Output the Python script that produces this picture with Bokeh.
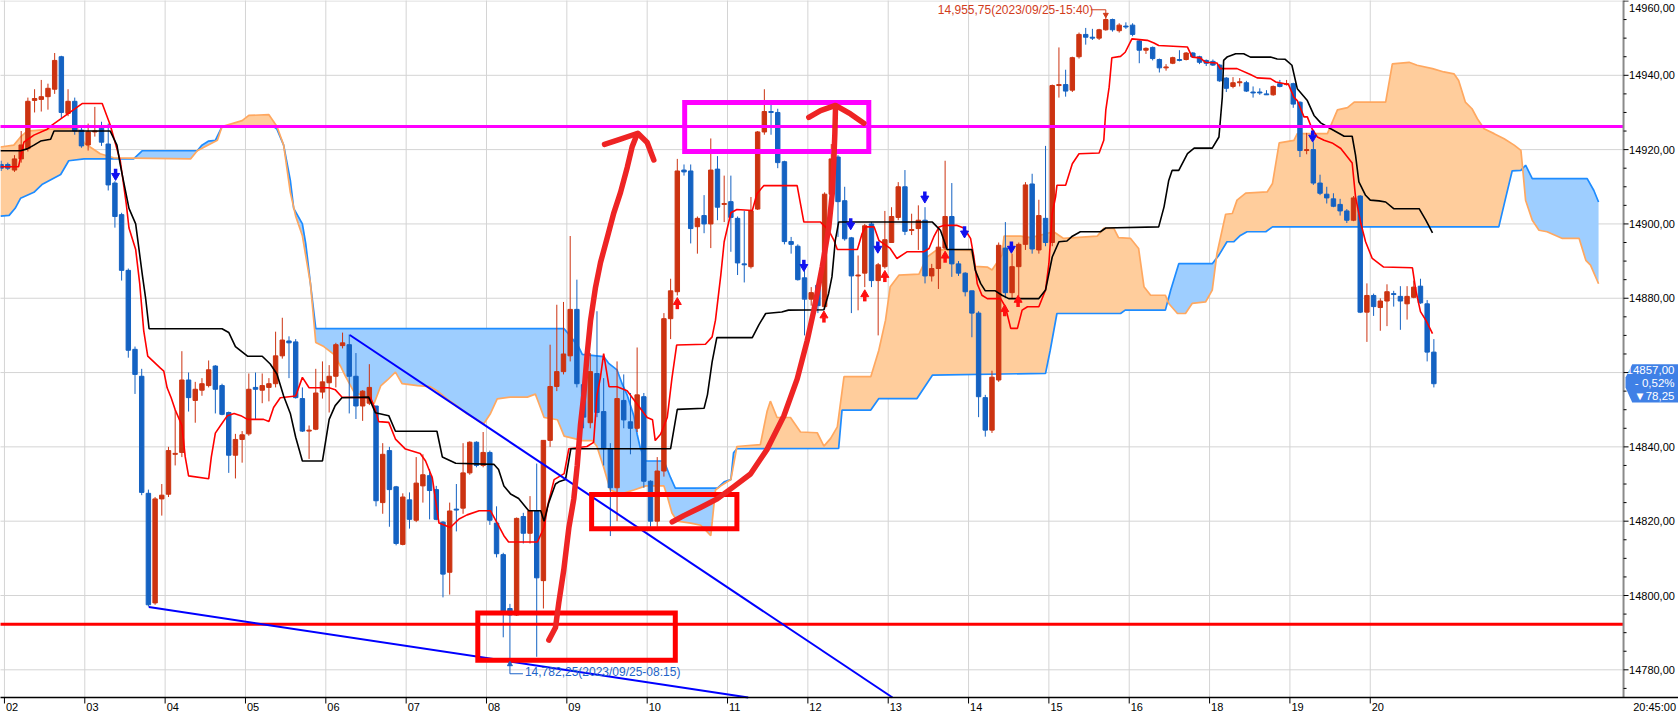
from bokeh.plotting import figure
from bokeh.models import ColumnDataSource, Range1d
from bokeh.core.properties import value
from bokeh.embed import file_html
from bokeh.resources import INLINE

FONT = "Liberation Sans"

# ---------------- data: 5-minute candles of 2023/09/25 ----------------
first_index = -1  # 01:55 candle, at the very left edge

opens = [
    14916.0,
    14916.0, 14914.5, 14917.5, 14920.25, 14933.25, 14933.5, 14934.25, 14936.25, 14945.0, 14929.75, 14933.0, 14925.25,
    14921.25, 14924.75, 14925.75, 14921.5, 14911.0, 14902.5, 14887.5, 14866.25, 14859.0, 14827.5, 14798.0, 14826.0,
    14827.25, 14838.0, 14838.5, 14858.0, 14852.5, 14855.25, 14856.5, 14861.75, 14856.5, 14849.25, 14837.75, 14842.0,
    14843.5, 14856.0, 14855.25, 14856.0, 14857.0, 14864.5, 14868.5, 14868.25, 14853.0, 14844.25, 14844.75, 14854.75,
    14857.25, 14859.0, 14867.25, 14867.5, 14859.0, 14851.0, 14851.75, 14851.0, 14825.0, 14839.0, 14829.25, 14813.75,
    14825.75, 14820.25, 14829.5, 14832.25, 14828.5, 14819.75, 14806.25, 14823.25, 14823.5, 14833.0, 14841.25, 14835.0,
    14838.5, 14819.5, 14811.0, 14796.5, 14794.75, 14821.25, 14816.75, 14822.75, 14804.0, 14841.75, 14856.25, 14860.25,
    14864.5, 14877.0, 14856.75, 14846.5, 14859.75, 14849.5, 14839.5, 14829.0, 14852.5, 14846.75, 14845.0, 14853.5,
    14830.75, 14820.0, 14833.5, 14874.5, 14881.75, 14914.5, 14914.25, 14899.25, 14902.25, 14900.0, 14914.75, 14905.25,
    14906.0, 14901.5, 14889.25, 14888.5, 14904.0, 14924.75, 14930.25, 14930.0, 14916.75, 14895.25, 14894.0, 14885.5,
    14879.75, 14883.5, 14877.75, 14908.0, 14918.0, 14906.25, 14896.25, 14886.0, 14886.75, 14900.0, 14884.75, 14888.5,
    14895.0, 14901.75, 14910.0, 14898.25, 14898.75, 14901.0, 14886.0, 14888.0, 14893.5, 14902.0, 14889.25, 14886.75,
    14882.0, 14876.0, 14853.25, 14844.5, 14858.0, 14893.5, 14881.5, 14888.5, 14894.5, 14910.75, 14893.0, 14901.5,
    14895.0, 14937.25, 14937.5, 14936.0, 14945.0, 14951.0, 14950.25, 14950.0, 14952.25, 14955.0, 14952.0, 14953.25,
    14953.5, 14949.25, 14946.75, 14947.5, 14944.25, 14942.0, 14943.25, 14944.25, 14944.25, 14946.0, 14945.0, 14944.0,
    14943.75, 14942.75, 14939.25, 14937.0, 14938.0, 14938.0, 14935.5, 14935.5, 14935.0, 14934.75, 14937.75, 14937.5,
    14937.75, 14932.75, 14919.75, 14920.0, 14911.0, 14908.0, 14906.75, 14905.25, 14903.5, 14901.0, 14907.5, 14876.25,
    14880.75, 14877.5, 14879.25, 14881.25, 14880.5, 14878.5, 14880.25, 14883.25, 14878.5, 14865.5,
]
highs = [
    14917.0,
    14916.5, 14918.5, 14925.0, 14934.0, 14936.25, 14938.75, 14937.75, 14946.0, 14945.25, 14936.25, 14934.0, 14926.0,
    14927.0, 14931.5, 14927.5, 14927.0, 14911.5, 14903.0, 14888.0, 14867.0, 14861.0, 14828.5, 14826.5, 14830.0,
    14840.0, 14850.0, 14865.75, 14860.0, 14857.5, 14858.5, 14863.25, 14862.0, 14857.0, 14849.5, 14843.5, 14844.25,
    14859.75, 14860.0, 14859.75, 14858.5, 14871.0, 14874.75, 14869.75, 14869.0, 14856.0, 14845.75, 14861.0, 14863.0,
    14862.0, 14868.0, 14870.75, 14870.25, 14865.25, 14855.25, 14862.25, 14851.0, 14841.0, 14840.0, 14829.5, 14827.5,
    14827.75, 14837.25, 14838.0, 14834.0, 14829.5, 14820.0, 14825.0, 14830.0, 14841.0, 14841.5, 14841.5, 14844.0,
    14839.0, 14824.0, 14811.5, 14797.75, 14821.0, 14822.25, 14826.75, 14835.5, 14841.75, 14867.5, 14878.25, 14879.0,
    14896.75, 14885.0, 14858.0, 14865.25, 14876.5, 14858.5, 14841.0, 14863.0, 14859.5, 14854.5, 14866.75, 14854.5,
    14831.0, 14837.25, 14876.0, 14885.25, 14917.5, 14916.0, 14916.0, 14902.0, 14907.75, 14923.0, 14918.25, 14913.0,
    14913.0, 14902.0, 14903.5, 14907.25, 14925.0, 14936.25, 14932.25, 14931.0, 14917.0, 14896.5, 14894.5, 14889.75,
    14883.0, 14885.0, 14908.5, 14921.5, 14918.5, 14910.0, 14896.5, 14891.5, 14900.0, 14900.5, 14889.5, 14903.5,
    14904.5, 14911.25, 14914.5, 14902.75, 14905.0, 14904.5, 14889.25, 14899.25, 14917.0, 14911.0, 14890.0, 14887.0,
    14882.0, 14876.5, 14854.0, 14860.5, 14895.0, 14900.5, 14892.0, 14895.0, 14911.25, 14913.5, 14906.5, 14921.0,
    14937.5, 14947.5, 14941.5, 14945.0, 14951.5, 14952.75, 14952.5, 14952.5, 14955.75, 14955.25, 14954.0, 14954.25,
    14954.0, 14949.5, 14947.5, 14947.75, 14944.5, 14943.0, 14945.0, 14946.75, 14946.25, 14946.25, 14945.25, 14944.25,
    14944.25, 14943.0, 14939.5, 14939.5, 14939.25, 14938.5, 14937.0, 14936.5, 14936.0, 14937.25, 14938.75, 14938.75,
    14938.0, 14933.0, 14924.5, 14922.0, 14913.25, 14910.0, 14908.25, 14906.75, 14904.0, 14907.5, 14907.75, 14884.0,
    14881.25, 14880.0, 14883.75, 14882.0, 14883.25, 14883.25, 14884.75, 14885.25, 14879.5, 14869.0,
]
lows = [
    14914.25,
    14914.5, 14914.0, 14916.5, 14919.5, 14930.0, 14930.25, 14930.75, 14935.0, 14928.25, 14929.0, 14924.0, 14920.5,
    14919.75, 14923.5, 14921.0, 14909.0, 14899.0, 14884.75, 14864.0, 14854.25, 14827.0, 14797.0, 14797.5, 14821.5,
    14826.5, 14835.0, 14837.25, 14849.5, 14846.5, 14853.75, 14856.0, 14849.0, 14848.5, 14833.0, 14831.5, 14835.75,
    14843.0, 14847.5, 14851.75, 14852.25, 14856.0, 14863.75, 14858.5, 14853.0, 14844.0, 14836.75, 14844.5, 14853.0,
    14849.25, 14856.0, 14866.5, 14849.0, 14847.5, 14847.0, 14851.25, 14824.0, 14822.0, 14818.5, 14813.5, 14813.5,
    14818.0, 14819.75, 14825.0, 14820.5, 14820.25, 14799.5, 14800.25, 14817.25, 14822.0, 14832.5, 14834.5, 14834.5,
    14819.0, 14810.25, 14788.75, 14782.25, 14794.5, 14814.0, 14814.0, 14783.5, 14796.5, 14840.0, 14855.0, 14859.5,
    14863.0, 14856.0, 14845.0, 14845.0, 14848.0, 14835.0, 14816.0, 14820.0, 14845.0, 14838.0, 14844.0, 14829.0,
    14818.5, 14818.5, 14832.0, 14869.0, 14880.75, 14913.0, 14894.75, 14892.0, 14897.5, 14893.5, 14901.0, 14900.5,
    14892.5, 14886.25, 14884.25, 14888.0, 14903.75, 14924.0, 14924.0, 14915.0, 14894.5, 14892.0, 14884.75, 14870.0,
    14878.0, 14876.0, 14877.0, 14907.0, 14896.5, 14895.5, 14876.0, 14876.75, 14883.0, 14883.0, 14870.0, 14888.0,
    14895.0, 14901.0, 14897.0, 14897.0, 14893.0, 14884.0, 14884.5, 14882.5, 14893.0, 14885.75, 14886.0, 14880.5,
    14869.5, 14848.0, 14842.75, 14843.75, 14857.5, 14880.0, 14880.0, 14880.5, 14893.0, 14892.0, 14892.0, 14894.0,
    14894.0, 14934.0, 14934.25, 14935.5, 14944.5, 14948.25, 14949.5, 14949.5, 14952.0, 14951.75, 14951.5, 14952.5,
    14950.5, 14943.25, 14945.75, 14944.0, 14940.75, 14941.25, 14943.0, 14943.75, 14944.0, 14944.75, 14943.0, 14942.5,
    14942.5, 14938.25, 14935.5, 14936.5, 14937.0, 14935.5, 14934.0, 14934.75, 14934.75, 14934.5, 14936.75, 14937.25,
    14931.25, 14918.0, 14918.75, 14910.5, 14907.75, 14905.5, 14904.5, 14902.25, 14900.25, 14900.75, 14876.0, 14868.25,
    14875.25, 14871.25, 14872.5, 14877.75, 14871.5, 14874.25, 14880.0, 14878.5, 14863.0, 14856.0,
]
closes = [
    14915.0,
    14915.0, 14917.5, 14921.25, 14933.0, 14933.75, 14934.25, 14936.5, 14944.0, 14930.0, 14933.0, 14925.0, 14921.0,
    14924.75, 14925.0, 14922.0, 14910.5, 14902.0, 14887.5, 14866.0, 14859.5, 14827.75, 14797.5, 14826.0, 14827.0,
    14839.0, 14838.25, 14858.0, 14853.25, 14855.5, 14857.0, 14860.75, 14855.5, 14848.75, 14837.75, 14842.0, 14843.25,
    14855.5, 14855.5, 14856.5, 14857.0, 14864.5, 14868.75, 14868.0, 14853.25, 14844.25, 14844.5, 14854.5, 14857.5,
    14859.0, 14867.5, 14868.0, 14859.0, 14851.0, 14855.0, 14856.0, 14825.5, 14838.0, 14828.5, 14814.0, 14826.5,
    14820.5, 14830.25, 14832.5, 14828.25, 14820.5, 14805.75, 14822.75, 14823.0, 14833.0, 14841.25, 14835.0, 14838.5,
    14820.25, 14811.25, 14795.0, 14794.75, 14820.75, 14816.75, 14822.75, 14804.75, 14841.75, 14856.25, 14860.25, 14865.0,
    14877.0, 14857.0, 14848.0, 14860.25, 14849.25, 14839.5, 14829.0, 14853.0, 14847.25, 14845.0, 14854.0, 14830.75,
    14820.0, 14833.5, 14874.5, 14882.0, 14914.25, 14914.0, 14898.75, 14901.5, 14900.0, 14914.5, 14904.5, 14905.5,
    14901.75, 14889.5, 14889.0, 14903.5, 14924.75, 14930.25, 14930.0, 14916.5, 14895.25, 14894.5, 14885.0, 14879.75,
    14881.5, 14878.0, 14908.0, 14917.5, 14906.0, 14896.0, 14886.0, 14886.25, 14899.5, 14884.75, 14889.0, 14895.75,
    14902.0, 14910.0, 14898.0, 14898.5, 14901.0, 14886.0, 14888.0, 14893.75, 14902.0, 14889.25, 14886.75, 14881.75,
    14876.0, 14853.5, 14844.5, 14858.75, 14894.25, 14881.5, 14888.5, 14894.5, 14910.5, 14893.25, 14902.25, 14895.0,
    14937.25, 14937.5, 14935.75, 14944.75, 14951.0, 14950.25, 14950.0, 14952.25, 14955.0, 14952.25, 14953.5, 14953.0,
    14951.0, 14946.75, 14947.25, 14944.5, 14942.0, 14942.25, 14944.75, 14944.0, 14946.0, 14945.0, 14943.5, 14943.25,
    14942.75, 14938.5, 14936.5, 14938.0, 14938.25, 14935.75, 14935.25, 14935.25, 14934.75, 14937.0, 14937.0, 14937.75,
    14932.25, 14919.75, 14920.0, 14911.0, 14908.25, 14907.0, 14904.75, 14903.5, 14901.0, 14907.0, 14876.25, 14880.75,
    14877.75, 14879.25, 14881.75, 14881.0, 14879.25, 14880.5, 14883.0, 14878.75, 14865.5, 14857.0,
]

hour_labels = ["02", "03", "04", "05", "06", "07", "08", "09", "10", "11", "12",
               "13", "14", "15", "16", "18", "19", "20"]
hour_first_candle = [0, 12, 24, 36, 48, 60, 72, 84, 96, 108, 120,
                     132, 144, 156, 168, 180, 192, 204]
price_ticks = [14780, 14800, 14820, 14840, 14860, 14880, 14900, 14920, 14940, 14960]

# Ichimoku lines: (candle index, price)
tenkan = [(-1.1, 14915.4), (1.6, 14915.4), (2.4, 14922.0), (3.9, 14923.9), (5.9, 14925.5), (6.6, 14926.6),
          (11.1, 14932.4), (14.1, 14932.4), (15.3, 14926.6), (16.8, 14917.0), (17.7, 14905.3), (18.1, 14898.9),
          (19.1, 14893.1), (19.7, 14884.0), (20.3, 14871.3), (20.9, 14864.4), (22.8, 14861.2), (23.3, 14860.4),
          (23.8, 14855.9), (24.4, 14853.2), (25.0, 14850.0), (26.0, 14845.8), (26.5, 14837.3), (27.0, 14832.2),
          (30.0, 14831.4), (30.4, 14837.3), (31.0, 14843.7), (31.8, 14845.8), (32.8, 14848.4), (33.8, 14849.0),
          (34.8, 14848.4), (35.8, 14847.4), (38.2, 14847.4), (39.0, 14846.8), (39.7, 14850.6), (40.7, 14853.2),
          (43.0, 14853.7), (44.0, 14858.7), (45.0, 14855.9), (48.0, 14855.9), (48.9, 14855.4), (49.9, 14853.4),
          (54.2, 14853.2), (54.9, 14850.0), (55.4, 14846.8), (56.9, 14846.6), (57.9, 14842.1), (59.4, 14839.4),
          (61.6, 14838.2), (62.4, 14836.2), (63.4, 14831.7), (64.4, 14819.5), (66.1, 14818.3), (67.4, 14820.6),
          (68.6, 14821.7), (70.4, 14822.8), (72.1, 14822.8), (73.1, 14819.5), (74.1, 14816.1), (74.8, 14814.4),
          (79.1, 14814.4), (80.1, 14818.3), (80.6, 14823.9), (81.6, 14831.2), (83.1, 14832.8), (83.8, 14839.5),
          (86.5, 14840.1), (87.5, 14841.2), (88.0, 14853.9), (88.5, 14858.5), (89.0, 14865.1), (89.8, 14856.2),
          (91.0, 14856.2), (92.5, 14855.1), (95.5, 14847.9), (96.3, 14847.3), (96.7, 14841.7), (97.5, 14843.4),
          (98.5, 14847.9), (99.2, 14858.5), (99.9, 14867.4), (104.2, 14867.6), (105.2, 14869.6), (105.7, 14874.1),
          (106.5, 14886.3), (107.0, 14895.2), (108.0, 14903.0), (108.9, 14903.9), (111.2, 14903.6), (111.9, 14908.1),
          (112.9, 14910.3), (117.9, 14910.3), (118.9, 14900.5), (121.4, 14900.5), (122.6, 14898.3), (123.4, 14895.6),
          (123.9, 14893.1), (126.9, 14893.1), (127.6, 14897.4), (128.1, 14899.2), (129.4, 14899.2), (130.1, 14895.6),
          (131.8, 14893.4), (132.8, 14890.7), (134.3, 14892.5), (136.8, 14892.5), (137.6, 14893.4), (138.3, 14896.5),
          (139.1, 14899.2), (139.8, 14899.6), (141.8, 14899.6), (142.8, 14898.9), (143.8, 14896.1), (144.3, 14891.1),
          (144.8, 14883.9), (145.5, 14880.8), (146.3, 14879.9), (148.3, 14879.9), (149.0, 14877.7), (149.8, 14871.9),
          (150.8, 14871.9), (151.5, 14876.8), (152.3, 14877.7), (154.0, 14877.7), (155.0, 14882.2), (155.5, 14889.3),
          (156.0, 14902.8), (156.5, 14907.3), (156.7, 14910.4), (158.0, 14910.4), (159.0, 14916.2), (160.0, 14918.9),
          (163.0, 14919.1), (163.7, 14922.5), (164.0, 14930.6), (164.5, 14936.8), (164.9, 14944.7), (166.2, 14945.1),
          (166.9, 14946.2), (167.9, 14949.8), (170.2, 14949.4), (171.2, 14948.7), (171.9, 14948.0), (176.2, 14947.6),
          (176.9, 14944.9), (178.1, 14944.7), (178.9, 14943.5), (180.6, 14943.3), (181.1, 14941.8), (183.6, 14941.8),
          (185.6, 14940.2), (186.6, 14939.3), (188.6, 14939.1), (189.4, 14938.2), (191.3, 14937.5), (192.1, 14934.1),
          (192.6, 14933.2), (193.6, 14928.8), (194.1, 14928.8), (194.8, 14925.6), (195.6, 14923.4), (196.6, 14922.5),
          (197.8, 14921.8), (199.1, 14920.3), (200.8, 14916.4), (201.3, 14907.3), (202.1, 14900.1), (202.8, 14895.2),
          (203.8, 14890.7), (205.5, 14888.4), (209.8, 14888.2), (210.3, 14882.2), (211.0, 14876.4), (211.8, 14874.1),
          (212.8, 14870.5)]
kijun = [(-1.1, 14919.7), (1.9, 14919.7), (2.9, 14920.2), (3.9, 14921.2), (4.9, 14922.3), (6.4, 14922.8),
         (6.9, 14925.0), (15.3, 14925.0), (16.3, 14921.2), (16.8, 14915.9), (18.1, 14904.2), (19.1, 14900.0),
         (20.1, 14886.2), (20.6, 14879.8), (21.1, 14871.8), (32.0, 14871.8), (33.0, 14870.8), (34.0, 14867.0),
         (35.8, 14864.4), (38.0, 14864.4), (39.2, 14862.3), (40.2, 14859.6), (41.2, 14853.7), (42.2, 14849.0),
         (43.0, 14842.6), (44.0, 14836.2), (47.0, 14836.2), (48.0, 14847.4), (48.9, 14851.1), (49.9, 14853.2),
         (53.9, 14853.4), (54.9, 14849.2), (56.9, 14848.4), (57.9, 14844.2), (64.1, 14844.2), (64.9, 14837.3),
         (66.9, 14835.6), (72.6, 14835.3), (73.3, 14833.9), (74.1, 14829.5), (75.1, 14827.3), (76.3, 14826.1),
         (77.8, 14822.8), (79.6, 14822.8), (80.1, 14820.0), (80.8, 14825.0), (81.8, 14830.0), (82.3, 14830.6),
         (83.3, 14831.2), (84.1, 14839.5), (99.0, 14839.5), (100.0, 14850.1), (104.0, 14850.4), (104.5, 14854.0),
         (105.2, 14862.9), (105.9, 14869.4), (111.2, 14869.4), (112.2, 14872.9), (113.2, 14875.9), (115.6, 14876.3),
         (116.6, 14876.8), (121.9, 14876.9), (122.6, 14881.3), (123.1, 14885.8), (123.6, 14895.6), (124.1, 14900.5),
         (138.1, 14900.5), (138.8, 14899.2), (139.3, 14898.3), (140.3, 14893.1), (144.0, 14893.1), (144.5, 14887.6),
         (145.3, 14884.0), (146.0, 14882.0), (147.5, 14882.0), (148.5, 14880.8), (149.5, 14879.9), (154.0, 14879.9),
         (155.0, 14882.2), (156.0, 14891.1), (157.0, 14895.2), (158.2, 14895.4), (159.0, 14896.7), (160.2, 14897.9),
         (163.2, 14897.9), (164.0, 14898.9), (171.9, 14899.2), (172.7, 14904.6), (173.4, 14911.7), (173.9, 14914.4),
         (174.9, 14914.4), (176.2, 14918.9), (177.2, 14920.4), (179.9, 14920.4), (180.9, 14923.4), (181.4, 14934.1),
         (181.6, 14944.0), (182.1, 14944.9), (183.4, 14945.8), (184.6, 14945.8), (185.6, 14944.9), (188.6, 14944.9),
         (189.6, 14944.4), (190.8, 14944.3), (191.8, 14942.7), (192.6, 14936.4), (194.1, 14933.2), (195.1, 14929.2),
         (196.1, 14927.2), (197.6, 14925.6), (199.6, 14923.6), (200.8, 14923.6), (201.3, 14918.5), (201.8, 14911.3),
         (202.8, 14907.7), (203.5, 14906.4), (204.8, 14906.2), (205.8, 14905.9), (207.0, 14904.1), (210.8, 14904.1),
         (211.8, 14901.0), (212.8, 14897.6)]
span_a = [(-1.1, 14902.1), (0.2, 14902.3), (1.1, 14904.2), (1.9, 14906.9), (3.9, 14908.5), (5.1, 14910.6),
          (7.9, 14913.3), (9.1, 14917.0), (11.4, 14917.5), (18.8, 14917.5), (20.1, 14919.7), (28.3, 14919.7),
          (29.0, 14921.2), (30.0, 14922.3), (31.0, 14922.5), (32.0, 14926.2), (39.7, 14926.2), (40.2, 14925.5),
          (41.2, 14921.2), (42.2, 14911.7), (42.7, 14904.2), (44.0, 14900.0), (44.5, 14894.7), (45.2, 14884.0),
          (46.0, 14871.8), (83.1, 14871.8), (84.1, 14869.6), (85.3, 14866.8), (85.8, 14864.9), (89.0, 14864.3),
          (89.8, 14862.4), (91.0, 14860.7), (91.8, 14856.8), (92.5, 14854.0), (93.5, 14848.4), (94.0, 14843.4),
          (94.5, 14839.5), (95.3, 14836.2), (98.0, 14836.2), (99.0, 14831.7), (99.7, 14828.9), (106.0, 14828.9),
          (107.0, 14830.6), (108.0, 14831.2), (108.4, 14838.4), (108.9, 14839.5), (124.1, 14839.6), (124.6, 14849.9),
          (128.9, 14849.9), (130.1, 14853.0), (135.8, 14853.0), (138.1, 14859.3), (155.0, 14859.8), (155.7, 14866.0),
          (156.7, 14875.9), (166.2, 14875.9), (166.9, 14876.8), (172.9, 14876.8), (173.7, 14882.2), (174.9, 14889.3),
          (179.9, 14889.3), (180.9, 14891.6), (182.1, 14895.2), (183.1, 14895.2), (184.1, 14896.9), (185.1, 14897.9),
          (187.9, 14897.9), (188.9, 14899.2), (222.7, 14899.2), (223.7, 14906.8), (224.7, 14914.3), (226.0, 14914.4),
          (226.7, 14915.8), (227.7, 14912.2), (235.9, 14912.2), (236.9, 14909.0), (237.6, 14905.9)]
span_b = [(-1.1, 14920.7), (0.9, 14921.2), (1.9, 14923.4), (2.9, 14925.0), (6.4, 14925.5), (10.4, 14925.7),
          (11.4, 14921.8), (13.8, 14918.9), (15.8, 14917.8), (27.3, 14917.5), (28.3, 14919.7), (31.3, 14922.5),
          (32.0, 14926.2), (35.0, 14927.8), (36.0, 14929.2), (39.0, 14929.4), (40.2, 14926.2), (41.2, 14921.2),
          (42.2, 14908.5), (43.0, 14902.1), (44.0, 14896.8), (45.2, 14884.0), (46.0, 14868.1), (47.2, 14867.0),
          (48.7, 14864.9), (49.7, 14861.7), (50.4, 14859.1), (51.7, 14854.8), (53.7, 14853.2), (54.7, 14851.6),
          (55.7, 14856.4), (56.7, 14858.0), (57.9, 14860.1), (58.9, 14857.0), (61.2, 14856.5), (63.1, 14856.2),
          (64.1, 14855.1), (65.6, 14852.9), (67.4, 14850.6), (68.6, 14848.9), (71.1, 14846.2), (72.1, 14849.0),
          (73.1, 14852.9), (75.1, 14853.4), (77.6, 14853.4), (78.8, 14854.2), (79.3, 14851.8), (80.1, 14847.9),
          (82.1, 14847.3), (83.1, 14842.9), (84.5, 14842.3), (85.8, 14841.7), (87.3, 14841.7), (88.0, 14840.1),
          (88.5, 14837.3), (89.0, 14834.5), (90.0, 14828.4), (91.5, 14827.3), (93.5, 14828.4), (95.3, 14829.5),
          (98.0, 14829.5), (98.5, 14826.7), (99.2, 14822.2), (100.0, 14820.0), (102.0, 14819.5), (103.5, 14818.9),
          (105.0, 14816.1), (105.7, 14828.4), (106.5, 14829.5), (108.0, 14831.2), (108.9, 14840.1), (112.4, 14840.6),
          (113.4, 14849.5), (113.9, 14852.3), (114.9, 14847.9), (116.9, 14847.9), (118.4, 14844.0), (120.9, 14843.8),
          (121.9, 14840.2), (122.9, 14842.3), (123.9, 14845.4), (124.9, 14858.9), (128.9, 14858.9), (130.1, 14866.0),
          (131.1, 14874.1), (131.8, 14883.1), (133.1, 14886.2), (136.1, 14886.5), (137.3, 14891.1), (138.8, 14893.1),
          (143.8, 14892.9), (144.5, 14888.6), (146.3, 14888.4), (147.0, 14887.6), (148.5, 14891.6), (148.8, 14896.7),
          (151.3, 14896.7), (152.8, 14896.3), (156.2, 14897.9), (157.7, 14896.1), (162.7, 14896.7), (163.7, 14898.8),
          (165.2, 14898.8), (165.9, 14896.3), (167.7, 14896.1), (168.9, 14893.4), (169.7, 14883.1), (170.7, 14880.8),
          (172.9, 14880.8), (173.4, 14878.6), (174.7, 14875.9), (175.9, 14875.9), (176.9, 14878.6), (178.9, 14879.0),
          (179.9, 14882.2), (180.6, 14892.0), (181.9, 14902.6), (182.9, 14902.8), (183.6, 14906.4), (184.9, 14908.3),
          (188.1, 14908.6), (188.9, 14910.9), (189.9, 14921.8), (192.1, 14922.5), (192.6, 14924.3), (197.1, 14924.3),
          (198.6, 14930.7), (200.1, 14931.3), (201.1, 14932.8), (205.8, 14932.8), (206.8, 14943.1), (209.3, 14943.5),
          (210.5, 14942.7), (212.8, 14941.8), (214.5, 14940.9), (216.0, 14940.4), (216.7, 14938.6), (217.7, 14932.8),
          (218.7, 14931.0), (219.5, 14928.3), (220.5, 14925.6), (222.0, 14924.3), (223.5, 14922.9), (225.0, 14921.2),
          (226.0, 14919.8), (226.2, 14916.2), (226.7, 14906.4), (227.7, 14901.0), (228.7, 14898.3), (229.9, 14897.9),
          (232.2, 14896.1), (234.7, 14896.1), (235.7, 14890.2), (236.4, 14888.9), (237.6, 14883.9)]

# signal arrows (candle index, price)
sell_signals = [(16.1, 14913.5), (118.9, 14889.0), (125.9, 14900.2), (129.95, 14893.9),
                (136.97, 14907.4), (142.9, 14898.0), (149.9, 14893.9), (194.9, 14923.8)]
buy_signals = [(100.0, 14878.4), (121.9, 14874.8), (128.0, 14880.5), (131.0, 14885.7),
               (140.0, 14890.9), (148.9, 14876.5), (150.9, 14879.0)]

# drawn annotations (candle index, price)
resistance_level = 14926.25
support_level = 14792.25
trend_lines = [[(21.06, 14796.9), (110.59, 14772.55)],
               [(51.08, 14870.1), (132.14, 14772.55)]]
red_boxes = [(70.2, 99.7, 14782.6, 14795.3), (87.2, 108.9, 14817.95, 14827.2)]
magenta_boxes = [(101.1, 128.6, 14919.5, 14932.7)]
stroke_left = [(80.81, 14788.0), (81.81, 14791.4), (82.30, 14798.1), (83.05, 14807.0), (83.80, 14818.2),
               (84.54, 14826.0), (85.05, 14834.9), (85.54, 14846.0), (86.03, 14853.9), (86.54, 14865.0),
               (87.04, 14874.0), (87.78, 14882.9), (88.53, 14889.6), (89.53, 14896.3), (90.52, 14903.0),
               (91.52, 14908.5), (92.52, 14915.2), (93.26, 14920.8), (94.01, 14924.2)]
head_left = [(89.13, 14921.4), (91.52, 14922.8), (94.10, 14924.4), (95.50, 14921.9), (96.49, 14917.2)]
stroke_right = [(99.24, 14819.8), (100.97, 14821.5), (103.47, 14823.7), (105.96, 14826.0), (108.44, 14829.3),
                (110.93, 14832.7), (113.43, 14839.4), (115.91, 14848.3), (117.91, 14858.3), (119.40, 14868.6),
                (120.39, 14876.7), (121.64, 14888.4), (122.63, 14899.1), (123.14, 14908.1), (123.38, 14917.1),
                (123.53, 14924.3), (123.63, 14931.4)]
head_right = [(119.64, 14928.7), (121.39, 14930.5), (123.63, 14931.9), (125.87, 14929.6), (127.86, 14927.1)]

high_index, high_price = 164, 14955.75
low_index, low_price = 75, 14782.25
high_text = "14,955,75(2023/09/25-15:40)"
low_text = "14,782,25(2023/09/25-08:15)"
last_price_text = "14857,00"
change_pct_text = "- 0,52%"
change_pts_text = "\u25bc78,25"
last_time_text = "20:45:00"

# ---------------- layout / styling ----------------
W, H = 1678, 720
X0, X1 = -1.09, 249.54          # candle-index span of the canvas
Y0, Y1 = 14766.36, 14960.13     # price span of the canvas
PLOT_RIGHT = 241.33             # where the price scale starts
PLOT_BOTTOM = 14772.55          # where the time scale starts
TPX = (X1 - X0) / W             # candle units per pixel
PPX = (Y1 - Y0) / H             # price units per pixel

UP, DOWN = "#CC3311", "#1462C2"
CLOUD_BLUE, CLOUD_ORANGE = "#9ECEFF", "#FFCD9C"
SPAN_A_COLOR, SPAN_B_COLOR = "#1E8CFF", "#FFA860"
GRID = "#D4D4D4"

p = figure(width=W, height=H, x_range=Range1d(X0, X1), y_range=Range1d(Y0, Y1),
           x_axis_type=None, y_axis_type=None, output_backend="svg", toolbar_location=None,
           min_border=0)
p.outline_line_color = None
p.background_fill_color = "white"
p.border_fill_color = "white"

hour_ticks = [h - 0.5 for h in hour_first_candle]

# grid
p.segment(x0=hour_ticks, y0=[PLOT_BOTTOM] * len(hour_ticks), x1=hour_ticks, y1=[Y1 + 2] * len(hour_ticks),
          line_color=GRID, line_width=1)
p.segment(x0=[X0 - 2] * len(price_ticks), y0=price_ticks, x1=[PLOT_RIGHT] * len(price_ticks), y1=price_ticks,
          line_color=GRID, line_width=1)


# ---------------- cloud fill between the two read span lines ----------------
def cloud_regions(a, b):
    at, av = [q[0] for q in a], [q[1] for q in a]
    bt, bv = [q[0] for q in b], [q[1] for q in b]
    pts = []
    for i in range(len(at) - 1):
        x1, y1, x2, y2 = at[i], av[i], at[i + 1], av[i + 1]
        for j in range(len(bt) - 1):
            x3, y3, x4, y4 = bt[j], bv[j], bt[j + 1], bv[j + 1]
            if x2 < x3 or x4 < x1:
                continue
            den = (x1 - x2) * (y3 - y4) - (y1 - y2) * (x3 - x4)
            if abs(den) < 1e-12:
                continue
            s = ((x1 - x3) * (y3 - y4) - (y1 - y3) * (x3 - x4)) / den
            u = ((x1 - x3) * (y1 - y2) - (y1 - y3) * (x1 - x2)) / den
            if -1e-9 <= s <= 1 + 1e-9 and -1e-9 <= u <= 1 + 1e-9:
                pts.append((x1 + s * (x2 - x1), y1 + s * (y2 - y1)))
    pts.sort()
    cuts = []
    for q in pts:
        if at[0] + 1e-6 < q[0] < at[-1] - 1e-6 and (not cuts or q[0] - cuts[-1][0] > 1e-6):
            cuts.append(q)
    bounds = [None] + cuts + [None]
    xs, ys, fills = [], [], []
    for k in range(len(bounds) - 1):
        c0, c1 = bounds[k], bounds[k + 1]
        lo = c0[0] if c0 else float("-inf")
        hi = c1[0] if c1 else float("inf")
        px, py = [], []
        if c0:
            px.append(c0[0]); py.append(c0[1])
        for t, v in zip(at, av):
            if lo < t < hi:
                px.append(t); py.append(v)
        if c1:
            px.append(c1[0]); py.append(c1[1])
        for t, v in reversed(list(zip(bt, bv))):
            if lo < t < hi:
                px.append(t); py.append(v)
        n = len(px)
        if n < 3:
            continue
        area = sum(px[i] * py[(i + 1) % n] - px[(i + 1) % n] * py[i] for i in range(n))
        if abs(area) < 1e-9:
            continue
        xs.append(px); ys.append(py)
        fills.append(CLOUD_BLUE if area < 0 else CLOUD_ORANGE)
    return xs, ys, fills


cx, cy, cf = cloud_regions(span_a, span_b)
p.patches("xs", "ys", fill_color="fill", line_color=None,
          source=ColumnDataSource(dict(xs=cx, ys=cy, fill=cf)))
p.line([q[0] for q in span_a], [q[1] for q in span_a], line_color=SPAN_A_COLOR, line_width=1.7)
p.line([q[0] for q in span_b], [q[1] for q in span_b], line_color=SPAN_B_COLOR, line_width=1.7)

# ---------------- candles ----------------
idx = list(range(first_index, first_index + len(closes)))
colors = [UP if c >= o else DOWN for o, c in zip(opens, closes)]
src = ColumnDataSource(dict(
    x=idx, high=highs, low=lows,
    top=[max(o, c) for o, c in zip(opens, closes)],
    bottom=[min(o, c) for o, c in zip(opens, closes)],
    color=colors))
p.segment(x0="x", y0="low", x1="x", y1="high", line_color="color", line_width=1, source=src)
p.vbar(x="x", width=0.66, top="top", bottom="bottom", fill_color="color",
       line_color="color", line_width=1, source=src)

p.line([q[0] for q in tenkan], [q[1] for q in tenkan], line_color="#FF0000", line_width=1.6)
p.line([q[0] for q in kijun], [q[1] for q in kijun], line_color="#000000", line_width=1.6)

# signal arrows
st = [q[0] for q in sell_signals]; sp = [q[1] for q in sell_signals]
p.segment(x0=st, y0=sp, x1=st, y1=[v + 5 * PPX for v in sp], line_color="#1010F0", line_width=3.5)
p.scatter(st, [v - 2 * PPX for v in sp], marker="inverted_triangle", size=8, color="#1010F0")
bt_ = [q[0] for q in buy_signals]; bp_ = [q[1] for q in buy_signals]
p.segment(x0=bt_, y0=bp_, x1=bt_, y1=[v - 5 * PPX for v in bp_], line_color="#FF1010", line_width=3.5)
p.scatter(bt_, [v + 2 * PPX for v in bp_], marker="triangle", size=8, color="#FF1010")

# horizontal levels (across the chart area only)
p.segment(x0=[X0 - 2, X0 - 2], y0=[resistance_level, support_level],
          x1=[PLOT_RIGHT, PLOT_RIGHT], y1=[resistance_level, support_level],
          line_color=["#FF00FF", "#FF0000"], line_width=3)

for tl in trend_lines:
    p.line([q[0] for q in tl], [q[1] for q in tl], line_color="#0000FF", line_width=2)

# highlight boxes
for boxes, col in ((red_boxes, "#FF0000"), (magenta_boxes, "#FF00FF")):
    p.quad(left=[b[0] for b in boxes], right=[b[1] for b in boxes],
           bottom=[b[2] for b in boxes], top=[b[3] for b in boxes],
           fill_color=None, line_color=col, line_width=5, line_join="miter")

# hand-drawn arrows
for stroke in (stroke_left, head_left, stroke_right, head_right):
    p.line([q[0] for q in stroke], [q[1] for q in stroke], line_color="#EE2424",
           line_width=5.5, line_cap="round", line_join="round")

# high / low markers
HIGH_COL, LOW_COL = "#D23C1C", "#1E64C8"
hy = high_price + 7 * PPX
p.line([high_index - 15 * TPX, high_index, high_index], [hy, hy, high_price + 2.5 * PPX],
       line_color=HIGH_COL, line_width=1)
p.scatter([high_index], [high_price + 2 * PPX], marker="inverted_triangle", size=5, color=HIGH_COL)
p.text(x=[high_index - 168 * TPX], y=[hy], text=[high_text], text_font=value(FONT), text_font_size="12px",
       text_color=HIGH_COL, text_align="left", text_baseline="middle")
ly = low_price - 12.3 * PPX
p.line([low_index, low_index, low_index + 13 * TPX], [low_price - 2 * PPX, ly, ly],
       line_color=LOW_COL, line_width=1)
p.scatter([low_index], [low_price - 2.8 * PPX], marker="triangle", size=5, color=LOW_COL)
p.text(x=[low_index + 15 * TPX], y=[ly + 1.5 * PPX], text=[low_text], text_font=value(FONT),
       text_font_size="12px", text_color=LOW_COL, text_align="left", text_baseline="middle")

# ---------------- price scale (right) ----------------
p.segment(x0=[PLOT_RIGHT], y0=[PLOT_BOTTOM], x1=[PLOT_RIGHT], y1=[Y1 + 1], line_color="#8A8A8A", line_width=2)
minor_price = [v for v in range(price_ticks[0] - 5, price_ticks[-1] + 1, 5) if v not in price_ticks]
p.segment(x0=[PLOT_RIGHT] * len(price_ticks), y0=price_ticks,
          x1=[PLOT_RIGHT + 5 * TPX] * len(price_ticks), y1=price_ticks, line_color="black", line_width=1)
p.segment(x0=[PLOT_RIGHT] * len(minor_price), y0=minor_price,
          x1=[PLOT_RIGHT + 3 * TPX] * len(minor_price), y1=minor_price, line_color="black", line_width=1)
p.text(x=[PLOT_RIGHT + 5.5 * TPX] * len(price_ticks), y=[min(v, Y1 - 7 * PPX) for v in price_ticks],
       text=[f"{v},00" for v in price_ticks], text_font=value(FONT), text_font_size="11px",
       text_color="black", text_align="left", text_baseline="middle")

# ---------------- time scale (bottom) ----------------
p.segment(x0=[X0 - 2], y0=[PLOT_BOTTOM], x1=[X1 + 2], y1=[PLOT_BOTTOM], line_color="black", line_width=1.5)
p.segment(x0=hour_ticks, y0=[PLOT_BOTTOM] * len(hour_ticks), x1=hour_ticks,
          y1=[PLOT_BOTTOM - 6 * PPX] * len(hour_ticks), line_color="black", line_width=1)
label_y = PLOT_BOTTOM - 9.5 * PPX
p.text(x=[max(t + 1.5 * TPX, X0 + 1 * TPX) for t in hour_ticks], y=[label_y] * len(hour_ticks),
       text=hour_labels, text_font=value(FONT), text_font_size="11px", text_color="black",
       text_align="left", text_baseline="middle")
p.text(x=[X1 - 2.5 * TPX], y=[label_y], text=[last_time_text], text_font=value(FONT),
       text_font_size="11px", text_color="black", text_align="right", text_baseline="middle")

# ---------------- last price readout on the price scale ----------------
last = closes[-1]
bx_l, bx_c = PLOT_RIGHT + 2 * TPX, PLOT_RIGHT + 8.7 * TPX
p.patch([bx_c, X1 + 1, X1 + 1, bx_c, bx_l, bx_l],
        [last + 19.5 * PPX, last + 19.5 * PPX, last - 18.8 * PPX, last - 18.8 * PPX,
         last - 3.8 * PPX, last + 6.2 * PPX],
        fill_color="#3F80E6", line_color=None)
p.text(x=[X1 - 4 * TPX] * 3, y=[last + 13.9 * PPX, last + 0.9 * PPX, last - 12.1 * PPX],
       text=[last_price_text, change_pct_text, change_pts_text], text_font=value(FONT),
       text_font_size="11.5px", text_color="white", text_align="right", text_baseline="middle")

html = file_html(p, INLINE, title="chart")
with open("out.html", "w", encoding="utf-8") as f:
    f.write(html)
